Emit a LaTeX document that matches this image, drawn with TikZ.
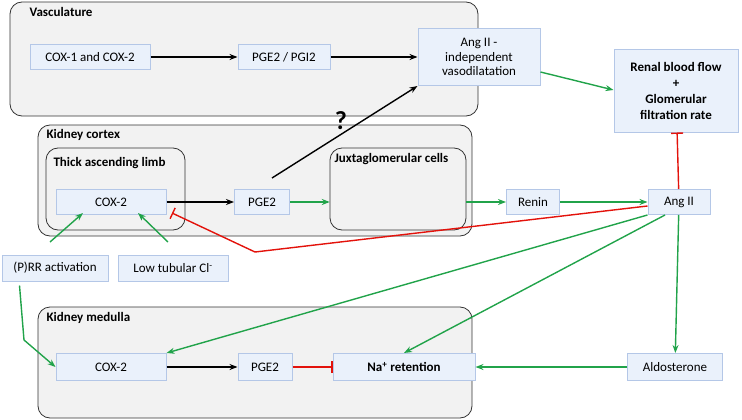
\documentclass[tikz,border=0pt]{standalone}
\usepackage{fontspec}
\setmainfont{Carlito}
\usetikzlibrary{arrows.meta}
\definecolor{nfill}{HTML}{EAF1FB}
\definecolor{ndraw}{HTML}{B4C7E7}
\definecolor{gfill}{HTML}{F2F2F2}
\definecolor{grn}{HTML}{21A34A}
\definecolor{rd}{HTML}{E3120B}
\begin{document}
\begin{tikzpicture}[x=1pt,y=-1pt,
 nd/.style={draw=ndraw,line width=1pt,fill=nfill,font=\fontsize{13}{14.5}\selectfont,align=center,inner sep=0pt},
 grp/.style={draw=black!80,line width=0.8pt,fill=gfill,rounded corners=12pt},
 lbl/.style={font=\bfseries\fontsize{13}{15}\selectfont,anchor=north west},
 ba/.style={-{Stealth[length=8pt,width=6pt]},line width=1.4pt,black},
 ga/.style={-{Stealth[length=8pt,width=6pt]},line width=1.4pt,grn},
 rt/.style={-{Bar[width=12pt]},line width=1.4pt,rd}]
\useasboundingbox (0,0) rectangle (742,420);
\draw[grp] (10,2) rectangle (478,116);
\node[lbl] (lv) at (26,4) {Vasculature};
\draw[grp] (38,125) rectangle (472,236);
\node[lbl] (lc) at (43,126) {Kidney cortex};
\draw[grp] (46,148) rectangle (185,230);
\node[lbl] (lt) at (50,154) {Thick ascending limb};
\draw[grp] (330,148) rectangle (466,230);
\node[lbl] (lj) at (331,150) {Juxtaglomerular cells};
\draw[grp] (38,307) rectangle (472,418);
\node[lbl] (lm) at (43,309) {Kidney medulla};

\node[nd,minimum width=120,minimum height=25] (cox1) at (90,57) {COX-1 and COX-2};
\node[nd,minimum width=92,minimum height=25] (pgi) at (284,57) {PGE2 / PGI2};
\node[nd,minimum width=122,minimum height=57] (vaso) at (479,57) {Ang II -\\independent\\vasodilatation};
\node[nd,minimum width=124,minimum height=82,font=\bfseries\fontsize{13}{16}\selectfont] (rbf) at (676,91) {Renal blood flow\\+\\Glomerular\\filtration rate};
\node[nd,minimum width=110,minimum height=25] (coxc) at (111,202) {COX-2};
\node[nd,minimum width=55,minimum height=25] (pgec) at (262,202) {PGE2};
\node (jg) at (398,189) [minimum width=136,minimum height=82] {};
\node[nd,minimum width=53,minimum height=25] (ren) at (533,202) {Renin};
\node[nd,minimum width=62,minimum height=25] (ang) at (679,202) {Ang II};
\node[nd,minimum width=106,minimum height=26] (prr) at (55,268) {(P)RR activation};
\node[nd,minimum width=110,minimum height=26] (cl) at (173,268) {Low tubular Cl\textsuperscript{-}};
\node[nd,minimum width=110,minimum height=27] (coxm) at (111,367) {COX-2};
\node[nd,minimum width=54,minimum height=27] (pgem) at (265,367) {PGE2};
\node[nd,minimum width=142,minimum height=27,font=\bfseries\fontsize{13}{15}\selectfont] (na) at (404,367) {Na\textsuperscript{+} retention};
\node[nd,minimum width=95,minimum height=27] (ald) at (675,367) {Aldosterone};
\node[font=\bfseries\fontsize{26}{28}\selectfont] (q) at (341,121) {?};

\draw[ba] (cox1) -- (pgi);
\draw[ba] (pgi) -- (vaso);
\draw[ga] (vaso.east |- 0,72) -- (rbf.west |- 0,90);
\draw[ba] (272,178) -- (vaso.south west);
\draw[ba] (coxc) -- (pgec);
\draw[ga] (pgec) -- (jg.west |- pgec);
\draw[ga] (jg.east |- ren) -- (ren);
\draw[ga] (ren) -- (ang);
\draw[rt] (ang) -- (rbf);
\draw[rt] (ang.west |- 0,206) -- (255,252) -- (172,213);
\draw[ga] (50,242) -- (83,213);
\draw[ga] (168,242) -- (138,213);
\draw[ga] (prr.south west) ++(18,4) -- (24,340) -- (coxm.west);
\draw[ga] (ang.south west) -- (coxm.north east);
\draw[ga] (ang.south) ++(-14,0) -- (na.north);
\draw[ga] (ang) -- (ald);
\draw[ga] (ald) -- (na);
\draw[ba] (coxm) -- (pgem);
\draw[rt] (pgem) -- (na);
\end{tikzpicture}
\end{document}
